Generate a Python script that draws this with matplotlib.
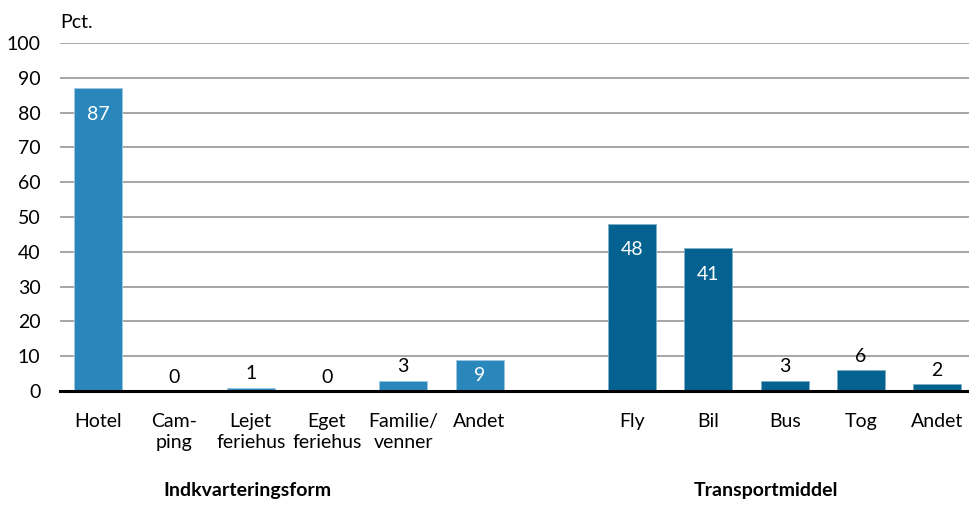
import matplotlib
matplotlib.use("Agg")
import matplotlib.pyplot as plt

plt.rcParams['font.family'] = ['Lato', 'DejaVu Sans']

accom_labels = ["Hotel", "Cam-\nping", "Lejet\nferiehus", "Eget\nferiehus", "Familie/\nvenner", "Andet"]
accom_values = [87, 0, 1, 0, 3, 9]
trans_labels = ["Fly", "Bil", "Bus", "Tog", "Andet"]
trans_values = [48, 41, 3, 6, 2]
group_titles = ["Indkvarteringsform", "Transportmiddel"]
yticks = [0, 10, 20, 30, 40, 50, 60, 70, 80, 90, 100]

c1 = "#2a87bb"
c2 = "#03628f"

fig = plt.figure(figsize=(9.7, 5.13), dpi=100)
ax = fig.add_axes([60/970, (513-391)/513, 910/970, 348/513])

xa = list(range(len(accom_values)))
xt = [len(accom_values) + 1 + i for i in range(len(trans_values))]

ax.bar(xa, accom_values, width=0.63, color=c1, edgecolor="#9cc8e0", linewidth=0.6, zorder=3)
ax.bar(xt, trans_values, width=0.63, color=c2, edgecolor="#7fb0c8", linewidth=0.6, zorder=3)

fs = 14
for xs, vs in ((xa, accom_values), (xt, trans_values)):
    for x, v in zip(xs, vs):
        if v >= 9 and v > 10:
            ax.text(x, v - 5.0, str(v), ha="center", va="top", color="white", fontsize=fs, zorder=4)
        elif v >= 9:
            ax.text(x, v / 2, str(v), ha="center", va="center", color="white", fontsize=fs, zorder=4)
        else:
            ax.text(x, v + 1.5, str(v), ha="center", va="bottom", color="black", fontsize=fs, zorder=4)

ax.set_ylim(0, 100)
ax.set_xlim(-0.5, xt[-1] + 0.43)
ax.set_yticks(yticks)
ax.set_yticklabels([str(t) for t in yticks], fontsize=fs)
ax.set_xticks(xa + xt)
ax.set_xticklabels(accom_labels + trans_labels, fontsize=fs, linespacing=1.25, va="top")
ax.tick_params(axis="x", length=0, pad=16)
ax.tick_params(axis="y", length=0, pad=14)
ax.yaxis.grid(True, color="#a6a6a6", linewidth=1.4, zorder=0)
ax.set_axisbelow(True)
for s in ["top", "right", "left"]:
    ax.spines[s].set_visible(False)
ax.spines["bottom"].set_linewidth(2.2)
ax.spines["bottom"].set_zorder(5)

ax.text(0, 1.035, "Pct.", transform=ax.transAxes, ha="left", va="bottom", fontsize=fs)

ax.text(1.96, -28.5, group_titles[0], ha="center", va="center", fontsize=14, fontweight="bold")
ax.text(8.76, -28.5, group_titles[1], ha="center", va="center", fontsize=14, fontweight="bold")

fig.savefig("out.png", dpi=100)
